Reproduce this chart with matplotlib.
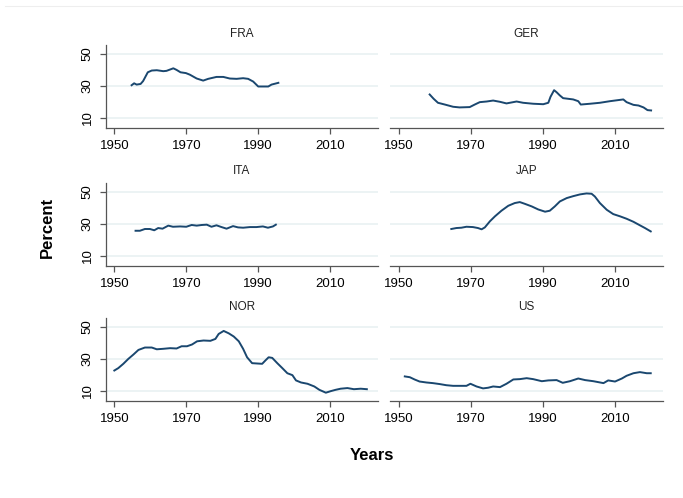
import matplotlib
matplotlib.use("Agg")
import matplotlib.pyplot as plt
from matplotlib.lines import Line2D

plt.rcParams['font.family'] = ['Liberation Sans', 'DejaVu Sans']

# Share of total (percent) by country, read year by year
fra_years = [1954.8, 1955.5, 1956.2, 1957.3, 1958.0, 1959.3, 1960.4, 1961.8, 1963.6, 1964.5,
             1966.4, 1967.3, 1968.4, 1969.9, 1971.0, 1972.9, 1974.7, 1976.1, 1978.4, 1980.3,
             1982.1, 1984.0, 1985.8, 1987.2, 1988.6, 1990.0, 1991.4, 1992.8, 1993.7, 1995.6]
fra_vals = [30.4, 31.6, 30.8, 31.2, 33.0, 38.5, 39.6, 39.8, 39.2, 39.4,
            41.0, 40.0, 38.5, 38.0, 37.0, 34.6, 33.3, 34.4, 35.6, 35.6,
            34.6, 34.4, 34.8, 34.4, 32.7, 29.6, 29.6, 29.6, 30.8, 31.9]

ger_years = [1958.6, 1959.7, 1960.9, 1962.8, 1965.1, 1966.9, 1969.7, 1971.1, 1972.5, 1974.4,
             1976.2, 1978.1, 1979.9, 1982.7, 1984.5, 1987.3, 1990.1, 1991.5, 1992.1, 1993.1,
             1993.8, 1994.7, 1995.6, 1998.4, 1999.8, 2000.5, 2003.1, 2005.8, 2008.6, 2012.3,
             2013.2, 2015.1, 2016.5, 2017.9, 2019.0, 2020.0]
ger_vals = [24.6, 21.9, 19.4, 18.3, 16.9, 16.5, 16.7, 18.3, 19.8, 20.2,
            20.8, 20.0, 19.0, 20.2, 19.4, 18.8, 18.5, 19.4, 23.1, 27.3,
            26.0, 24.0, 22.3, 21.5, 20.4, 18.3, 18.8, 19.4, 20.4, 21.5,
            19.8, 18.1, 17.7, 16.5, 14.8, 14.6]

ita_years = [1955.9, 1957.1, 1958.5, 1959.9, 1961.1, 1962.2, 1963.4, 1965.0, 1966.3, 1968.3,
             1970.0, 1971.5, 1972.9, 1974.3, 1975.7, 1977.0, 1978.4, 1979.8, 1981.2, 1983.0,
             1984.4, 1985.8, 1987.7, 1989.5, 1991.3, 1992.7, 1994.1, 1994.9]
ita_vals = [25.6, 25.6, 26.7, 26.7, 25.9, 27.3, 26.9, 28.8, 28.1, 28.3,
            28.1, 29.2, 28.8, 29.2, 29.4, 28.1, 29.0, 27.9, 26.9, 28.5,
            27.7, 27.5, 27.9, 27.9, 28.3, 27.5, 28.3, 29.4]

jap_years = [1964.6, 1966.0, 1967.4, 1968.8, 1970.6, 1972.0, 1973.0, 1973.9, 1975.3, 1976.7,
             1978.5, 1980.4, 1982.2, 1983.6, 1985.0, 1986.9, 1988.7, 1990.6, 1991.9, 1993.3,
             1994.7, 1996.6, 1998.4, 2000.3, 2002.1, 2003.5, 2004.4, 2005.8, 2007.7, 2009.5,
             2011.4, 2013.2, 2015.1, 2016.9, 2018.3, 2019.9]
jap_vals = [26.7, 27.3, 27.5, 28.1, 27.9, 27.3, 26.5, 27.7, 31.5, 34.6,
            38.1, 41.2, 42.9, 43.5, 42.4, 40.8, 38.9, 37.5, 38.1, 40.8,
            43.9, 46.0, 47.2, 48.3, 48.9, 48.7, 47.0, 42.9, 38.7, 36.0,
            34.6, 33.1, 31.2, 29.0, 27.3, 25.2]

nor_years = [1950.0, 1951.1, 1952.5, 1953.9, 1955.3, 1956.7, 1958.5, 1960.4, 1961.8, 1963.6,
             1965.5, 1967.3, 1968.7, 1970.2, 1971.6, 1973.0, 1974.8, 1976.7, 1978.1, 1979.0,
             1980.4, 1981.8, 1983.2, 1984.6, 1985.8, 1986.9, 1988.3, 1989.7, 1991.1, 1992.0,
             1992.9, 1993.9, 1995.3, 1996.7, 1998.1, 1999.5, 2000.5, 2001.9, 2003.7, 2005.6,
             2007.0, 2008.8, 2010.2, 2011.5, 2012.9, 2014.8, 2016.6, 2018.5, 2020.2]
nor_vals = [22.7, 24.2, 26.9, 30.0, 32.7, 35.6, 37.1, 37.1, 36.0, 36.3,
            36.7, 36.5, 37.9, 37.9, 39.0, 41.0, 41.5, 41.3, 42.5, 45.6,
            47.5, 46.0, 44.0, 41.0, 36.3, 31.0, 27.3, 27.1, 26.9, 29.0,
            31.0, 30.6, 27.3, 24.2, 21.0, 19.8, 16.5, 15.2, 14.4, 12.7,
            10.6, 8.8, 9.8, 10.6, 11.3, 11.7, 11.0, 11.3, 11.0]

us_years = [1951.7, 1953.1, 1954.4, 1955.8, 1957.7, 1959.5, 1961.4, 1963.2, 1965.1, 1966.9,
            1968.8, 1969.9, 1971.6, 1973.4, 1974.8, 1976.2, 1978.1, 1979.9, 1981.8, 1983.6,
            1985.5, 1987.3, 1989.7, 1991.5, 1993.8, 1995.5, 1997.5, 1999.8, 2001.7, 2004.0,
            2006.8, 2008.1, 2010.0, 2011.9, 2013.2, 2015.1, 2016.9, 2018.8, 2019.9]
us_vals = [19.0, 18.5, 17.1, 15.8, 15.2, 14.8, 14.2, 13.5, 13.1, 13.1,
           13.1, 14.4, 12.7, 11.5, 11.9, 12.7, 12.3, 14.4, 17.1, 17.3,
           17.9, 17.3, 16.0, 16.5, 16.7, 15.0, 16.0, 17.7, 16.7, 16.0,
           14.8, 16.5, 15.8, 17.7, 19.4, 21.0, 21.7, 21.0, 21.0]

countries = ['FRA', 'GER', 'ITA', 'JAP', 'NOR', 'US']
series = [(fra_years, fra_vals), (ger_years, ger_vals), (ita_years, ita_vals),
          (jap_years, jap_vals), (nor_years, nor_vals), (us_years, us_vals)]
x_ticks = [1950, 1970, 1990, 2010]
y_ticks = [10, 30, 50]

W, H = 683, 498
fig = plt.figure(figsize=(W / 100, H / 100), dpi=100)

line_color = '#1a476f'
grid_color = '#eaf2f3'
axis_color = '#555555'

# panel boxes in pixels: (left, top, right, bottom)
col_x = [(105.7, 378.0), (390.0, 663.0)]
row_y = [(45.0, 128.0), (182.7, 266.0), (318.0, 401.0)]

for i, (name, (xs, ys)) in enumerate(zip(countries, series)):
    r, c = divmod(i, 2)
    x0, x1 = col_x[c]
    y0, y1 = row_y[r]
    ax = fig.add_axes([x0 / W, 1 - y1 / H, (x1 - x0) / W, (y1 - y0) / H])
    ax.plot(xs, ys, color=line_color, lw=1.4, zorder=3)
    ax.set_xlim(1947.6, 2023.3)
    ax.set_ylim(3.6, 55.6)
    for yt in y_ticks:
        ax.axhline(yt, color=grid_color, lw=1.3, zorder=1)
    ax.set_xticks(x_ticks)
    ax.set_xticklabels([str(t) for t in x_ticks], fontsize=9.5)
    ax.set_yticks(y_ticks)
    for s in ['top', 'right']:
        ax.spines[s].set_visible(False)
    ax.spines['bottom'].set_color(axis_color)
    ax.spines['bottom'].set_linewidth(0.9)
    ax.tick_params(axis='x', length=4.5, width=0.9, color=axis_color, pad=4)
    if c == 0:
        ax.spines['left'].set_color(axis_color)
        ax.spines['left'].set_linewidth(0.9)
        ax.set_yticklabels([str(t) for t in y_ticks], fontsize=9.5, rotation=90, va='center')
        ax.tick_params(axis='y', length=4.5, width=0.9, color=axis_color, pad=4)
    else:
        ax.spines['left'].set_visible(False)
        ax.tick_params(axis='y', left=False, labelleft=False)
    ax.set_title(name, fontsize=8.5, color='#222222', pad=6)

fig.text(47 / W, 1 - 227 / H, 'Percent', rotation=90, ha='center', va='center',
         fontsize=12, fontweight='bold')
fig.text(372 / W, 1 - 456 / H, 'Years', ha='center', va='center',
         fontsize=12, fontweight='bold')

# faint frame line along the top edge
fig.add_artist(Line2D([5 / W, 1], [1 - 6 / H, 1 - 6 / H], color='#eeeeee', lw=0.8))

fig.savefig('out.png', dpi=100)
